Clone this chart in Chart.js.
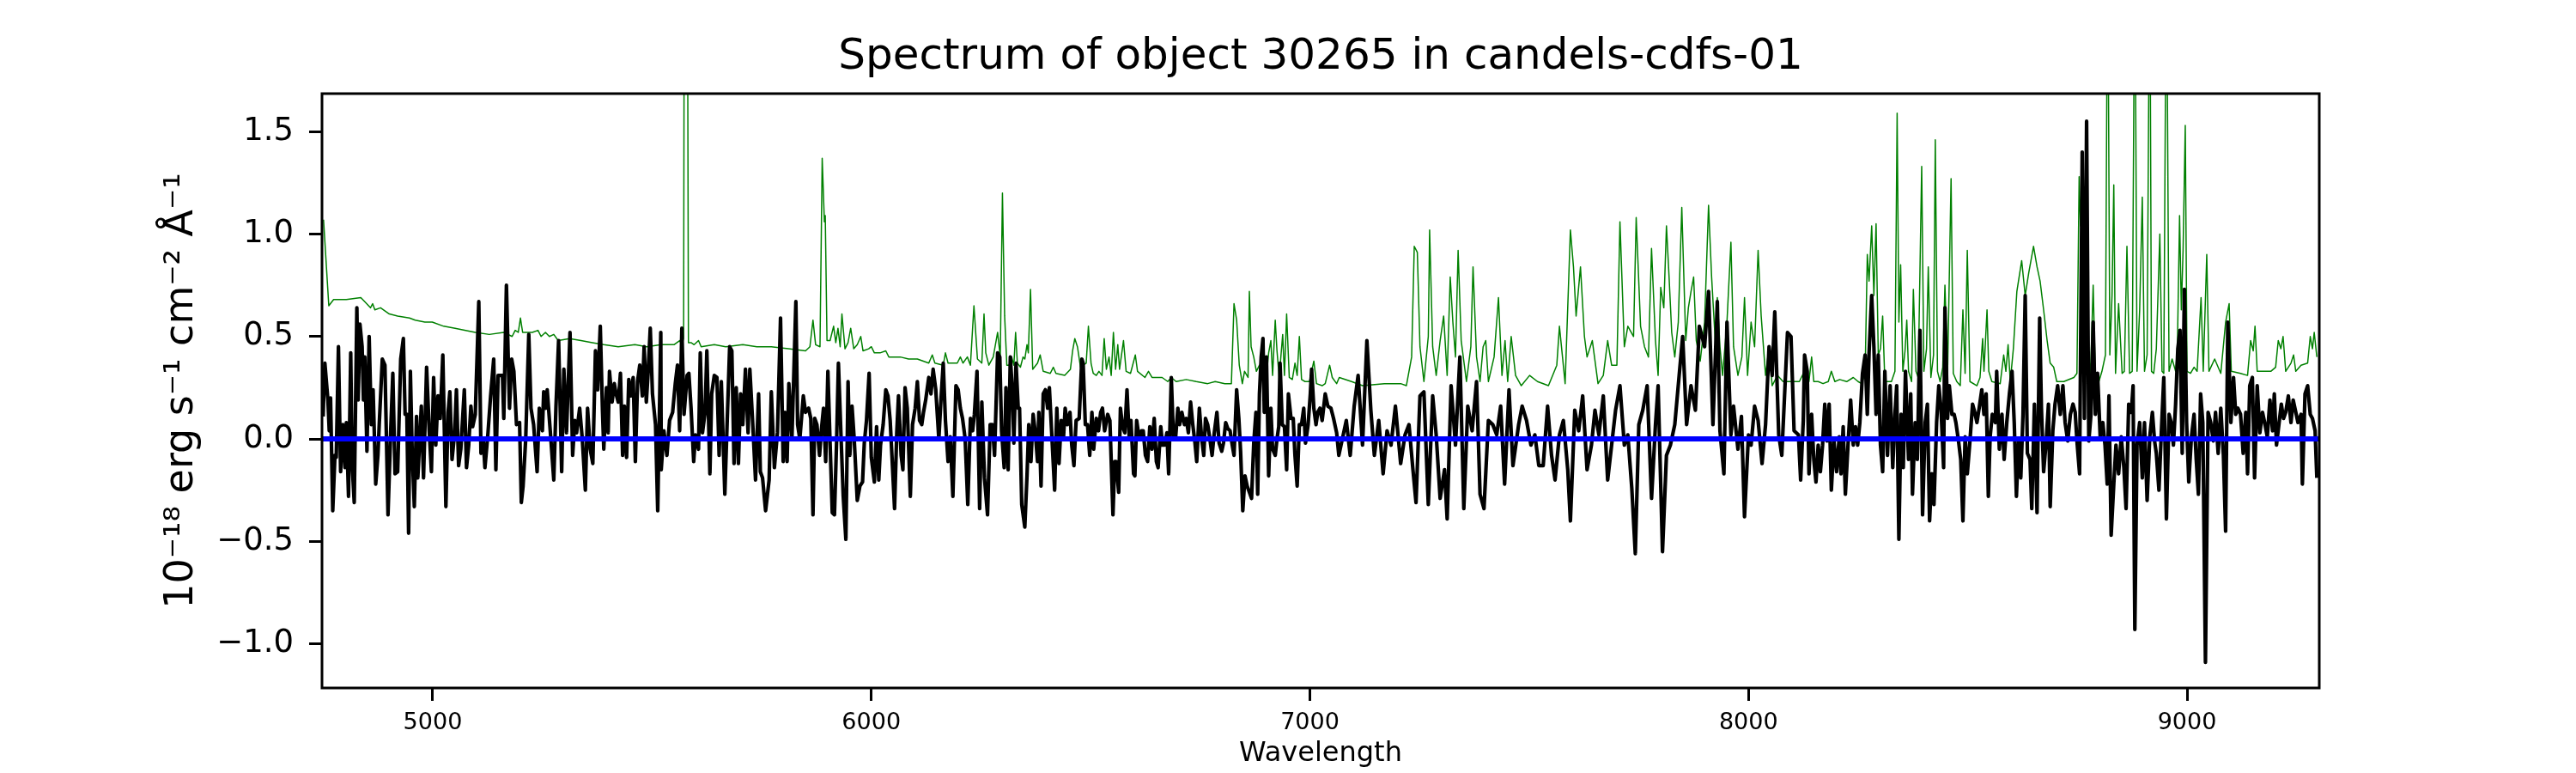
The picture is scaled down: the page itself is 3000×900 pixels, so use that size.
<!DOCTYPE html>
<html>
<head>
<meta charset="utf-8">
<script src="https://cdn.jsdelivr.net/npm/chart.js@4.4.1/dist/chart.umd.min.js"></script>
<style>
  html, body { margin: 0; padding: 0; background: #fff; }
</style>
</head>
<body>
<canvas id="spectrum" width="3000" height="900"></canvas>
<script>
'use strict';

// axis ticks
const xTicks = [5000, 6000, 7000, 8000, 9000];
const yTicks = [-1.0, -0.5, 0.0, 0.5, 1.0, 1.5];
const yTickLabels = ['\u22121.0', '\u22120.5', '0.0', '0.5', '1.0', '1.5'];

// object flux (black)
const fluxWave = [
  4750,4754,4761,4764,4767,4772,4777,4780,4785,4790,
  4795,4800,4803,4808,4813,4816,4821,4827,4830,4834,
  4839,4842,4845,4850,4855,4860,4864,4870,4875,4878,
  4885,4891,4898,4904,4909,4914,4920,4927,4933,4937,
  4941,4945,4949,4953,4958,4963,4966,4974,4979,4986,
  4992,4997,5002,5007,5012,5017,5023,5030,5035,5039,
  5044,5050,5054,5059,5064,5072,5077,5082,5087,5091,
  5097,5105,5110,5115,5119,5126,5132,5139,5144,5149,
  5159,5162,5168,5175,5180,5185,5191,5198,5202,5206,
  5212,5219,5224,5230,5238,5243,5250,5253,5258,5261,
  5270,5276,5281,5287,5294,5299,5305,5313,5319,5324,
  5328,5335,5341,5348,5353,5359,5365,5371,5376,5382,
  5387,5390,5396,5400,5403,5409,5414,5418,5423,5428,
  5433,5437,5442,5447,5452,5457,5462,5467,5472,5478,
  5482,5487,5491,5496,5501,5508,5513,5520,
  5521,5527,5534,5540,5547,5553,5558,5563,5568,5573,
  5580,5584,5589,5595,5599,5606,5610,5615,5621,5625,
  5632,5636,5642,5648,5653,5658,5666,5671,5677,5682,
  5687,5692,5697,5702,5707,5713,5719,5723,5730,5736,
  5743,5747,5752,5759,5767,5772,5779,5786,5793,5799,
  5803,5808,5812,5819,5828,5832,5837,5845,5850,5857,
  5862,5867,5871,5876,5882,5886,5891,5896,5901,5906,
  5911,5916,5921,5925,5932,5936,5942,5947,5951,5956,
  5961,5968,5974,5980,5984,5989,5995,6000,6007,6012,
  6017,6021,6027,6033,6038,6043,6047,6053,6058,6062,
  6068,6072,6077,6082,6089,6094,6100,6105,6110,6115,
  6119,6124,6131,6136,6141,6147,6154,6158,6164,6169,
  6175,6180,6186,6193,6198,6203,6208,6214,6220,6226,
  6231,6235,6241,6247,6252,6258,6265,6271,6276,6281,
  6288,6293,
  6297,6303,6307,6312,6317,6322,6325,6330,6335,6338,
  6343,6350,6355,6359,6364,6369,6374,6379,6382,6387,
  6392,6397,6402,6406,6412,6418,6423,6428,6433,6438,
  6442,6447,6453,6457,6462,6467,6474,6480,6483,6488,
  6493,6498,6503,6507,6513,6518,6523,6527,6532,6539,
  6544,6551,6555,6558,6564,6568,6573,6578,6583,6588,
  6592,6598,6601,6605,6611,6616,6620,6625,6630,6635,
  6640,6645,6650,6654,6660,6664,6669,6674,6678,6684,
  6689,6694,6699,6703,6708,6714,6718,6723,6728,6733,
  6738,6742,6748,6753,6758,6762,6767,6772,6777,6782,
  6788,6793,6799,6803,6808,6813,6818,6823,6827,6833,
  6838,6842,6847,6852,6857,6862,6867,6872,6877,6881,
  6885,6889,6893,6896,6901,6906,6911,6915,6921,6925,
  6929,6932,6937,6942,6947,6951,6957,6962,6966,6971,
  6976,6981,6986,6990,6996,7001,7004,7009,7014,7018,
  7023,7028,7035,7041,7048,7054,7061,7066,
  7070,7083,7092,7101,7110,7120,7130,7139,7147,7157,
  7167,7176,7185,7195,7207,7217,7226,7235,7242,7251,
  7260,7270,7280,7288,7297,7307,7313,7322,7332,7342,
  7351,7360,7370,7380,7388,7397,7407,7417,7426,7435,
  7444,7454,7463,7476,7484,7494,7504,7513,7522,7532,
  7542,7551,7559,7569,7578,7588,7594,7604,7613,7622,
  7632,7642,7650,7659,7669,7679,7688,7697,7707,7717,
  7725,7734,7742,7750,7759,7769,7779,7788,7794,7804,
  7813,7822,7832,7842,7850,7859,7869,7879,7888,7900,
  7909,7919,7929,
  7935,7944,7951,7960,7966,7976,7984,7991,8000,8006,
  8014,8022,8031,8039,8047,8054,8060,8069,8076,8089,
  8097,8104,8114,8119,8125,
  8128,8134,8138,8144,8149,8154,8159,8164,8169,8174,
  8179,8184,8189,8195,8201,8207,8211,8216,8221,8227,
  8233,8239,8244,8249,8254,8260,8266,8271,8275,8281,
  8286,8291,8296,8301,8306,8311,8317,8323,8329,8334,
  8338,8343,8348,8353,8358,8365,8370,8374,8380,8385,
  8391,8397,8403,8408,8413,8418,8423,8429,8434,8439,
  8445,8448,8454,8458,8464,8469,8473,8479,8484,8489,
  8494,8499,8505,8511,8516,8521,8526,8532,8537,8542,
  8547,8551,8556,8563,8566,8572,8578,8583,8589,8595,
  8601,8606,8611,8616,8621,8626,8631,8636,8642,8646,
  8652,8658,8664,8668,8673,8679,8684,8688,8694,8699,
  8705,8711,8717,8722,8728,8734,8740,8745,8749,8755,
  8761,8766,8771,8776,8781,8786,8791,8796,8802,8808,
  8813,8818,8822,8827,8833,8838,8844,8850,8856,8861,
  8867,8873,8877,8881,8886,8892,8898,8903,8909,8915,
  8921,8926,8930,8936,8941,8947,8953,8959,8964,8969,
  8974,8979,8984,8989,8994,8999,9004,9010,9016,9021,
  9026,9031,9036,9042,9048,9054,9060,9065,9071,9077,
  9083,9088,9093,9100,9106,9111,9116,9122,9128,9134,
  9138,9143,9149,9154,9160,9166,9172,9177,9183,9189,
  9195,9199,9204,9210,9215,9220,9225,9231,9237,9242,
  9248,9253,9260,9263,9269,9275,9281,9286,9292,9296
];
const fluxValue = [
  0.11,0.37,0.19,0.04,0.20,-0.35,-0.08,-0.09,0.45,-0.16,
  0.07,-0.14,0.08,-0.28,0.42,-0.11,-0.31,0.64,0.19,0.56,
  0.45,0.19,0.40,-0.06,0.50,0.07,0.24,-0.22,-0.08,0.07,
  0.39,0.36,-0.37,0.03,0.32,-0.17,-0.16,0.39,0.49,0.12,
  0.12,-0.46,0.33,-0.05,-0.33,0.11,-0.19,0.16,-0.19,0.35,
  0.04,-0.16,0.30,-0.03,0.21,0.10,0.41,-0.33,0.13,0.23,
  -0.10,0.03,0.24,-0.13,-0.05,0.24,-0.14,-0.03,0.16,0.06,
  0.12,0.67,-0.07,0.00,-0.14,0.03,0.21,0.39,-0.15,0.31,
  0.31,0.10,0.75,0.15,0.39,0.33,0.07,0.08,-0.31,-0.23,
  0.00,0.51,0.15,0.07,-0.16,0.15,0.04,0.23,0.15,0.24,
  -0.02,-0.20,0.16,0.48,-0.16,0.34,0.03,0.52,-0.08,0.09,
  0.03,0.15,0.00,-0.25,0.15,-0.05,-0.12,0.43,0.24,0.55,
  0.14,-0.05,0.25,0.03,0.33,0.18,0.27,0.22,0.18,0.32,
  -0.08,0.16,-0.09,0.29,0.21,0.30,-0.11,0.28,0.36,0.21,
  0.45,0.18,0.32,0.54,0.22,0.07,-0.35,0.52,
  -0.15,0.04,-0.08,0.09,0.13,0.27,0.36,0.04,0.54,0.12,
  0.31,0.32,0.15,-0.11,0.02,-0.05,0.42,0.03,0.13,0.43,
  -0.17,0.22,0.31,0.30,-0.08,0.28,-0.27,0.06,0.45,0.43,
  -0.12,0.25,-0.12,0.22,0.07,0.34,0.03,0.34,0.06,-0.20,
  0.22,-0.16,-0.19,-0.35,-0.20,0.23,-0.14,0.03,0.59,-0.11,
  0.13,-0.11,0.27,0.00,0.67,0.07,0.00,0.21,0.13,0.15,
  0.10,-0.37,0.10,0.07,-0.08,0.04,0.15,-0.11,0.33,-0.02,
  -0.36,-0.37,0.00,0.37,-0.05,-0.28,-0.49,0.28,-0.08,0.16,
  0.00,-0.30,-0.23,-0.21,-0.02,0.09,0.32,-0.09,-0.21,0.06,
  -0.20,-0.03,0.07,0.24,0.21,0.09,-0.08,-0.34,0.03,0.21,
  -0.08,-0.15,0.25,0.15,-0.28,0.07,0.15,0.28,0.09,0.07,
  0.13,0.19,0.30,0.22,0.34,0.24,0.00,0.16,0.37,0.09,
  -0.11,0.01,-0.28,0.26,0.24,0.15,0.10,0.00,-0.32,0.10,
  0.04,0.12,0.33,-0.34,0.18,-0.19,-0.37,0.07,0.07,-0.08,
  0.42,0.40,
  0.04,-0.14,0.25,-0.15,0.40,0.22,-0.02,0.37,0.15,0.15,
  -0.32,-0.43,-0.18,0.07,-0.11,0.12,0.03,-0.11,0.13,-0.23,
  0.22,0.24,0.15,0.25,0.00,-0.25,0.15,-0.12,0.09,0.00,
  0.15,0.07,0.13,-0.03,-0.13,0.09,0.10,0.39,0.37,0.07,
  0.07,-0.08,0.13,-0.05,0.10,0.04,0.13,0.15,0.04,0.12,
  0.09,-0.37,-0.11,-0.11,-0.26,0.15,0.06,0.03,0.24,0.01,
  0.09,-0.17,-0.18,0.09,0.00,0.04,0.04,-0.08,-0.11,0.06,
  -0.05,0.10,-0.11,-0.14,0.06,-0.03,-0.03,0.03,-0.17,0.30,
  0.00,0.01,0.15,0.07,0.13,0.07,0.10,0.03,0.18,0.07,
  -0.02,-0.11,0.15,0.01,-0.08,0.10,0.07,0.00,-0.08,0.03,
  0.13,-0.02,-0.06,-0.02,0.08,0.05,0.04,-0.03,-0.08,0.24,
  0.10,-0.06,-0.35,-0.18,-0.23,-0.26,-0.29,-0.02,0.13,-0.27,
  0.22,0.40,0.49,0.13,0.40,-0.18,0.15,-0.05,-0.08,0.00,
  0.06,0.37,0.07,0.06,-0.15,0.22,0.10,0.10,-0.08,-0.23,
  0.07,0.07,0.15,-0.02,0.07,0.22,0.34,0.15,0.07,0.13,
  0.15,0.09,0.22,0.16,0.15,0.10,0.03,-0.08,
  -0.04,0.09,-0.08,0.16,0.31,-0.03,0.48,0.14,-0.08,0.09,
  -0.17,0.04,-0.03,0.16,-0.12,0.02,0.07,-0.15,-0.31,0.21,
  0.23,-0.32,0.21,0.02,-0.29,-0.15,-0.39,0.26,-0.03,0.40,
  -0.34,0.16,0.04,0.28,-0.27,-0.34,0.09,0.07,0.02,0.16,
  -0.22,0.24,-0.13,0.07,0.16,0.09,-0.03,0.02,-0.13,-0.13,
  0.16,-0.08,-0.20,0.02,0.09,-0.15,-0.40,0.14,0.04,0.21,
  -0.15,-0.03,0.14,0.02,0.21,-0.20,-0.03,0.14,0.26,-0.03,
  0.02,-0.24,-0.56,0.07,0.14,0.26,-0.29,0.07,0.26,-0.55,
  -0.08,-0.03,0.07,0.31,0.50,0.07,0.26,0.14,0.55,0.45,
  0.72,0.07,0.67,
  0.04,-0.17,0.57,0.02,0.16,-0.05,0.11,-0.38,0.02,-0.03,
  0.16,0.09,-0.12,0.07,0.45,0.31,0.62,0.02,-0.08,0.52,
  0.50,0.04,0.02,-0.20,0.09,
  0.41,0.33,-0.17,0.12,-0.10,-0.21,-0.03,-0.16,-0.03,0.17,
  -0.01,0.17,-0.25,-0.01,-0.16,0.01,-0.17,0.06,-0.27,-0.03,
  0.19,-0.03,0.06,-0.03,0.08,0.32,0.41,0.12,0.42,0.70,
  0.45,0.12,0.41,-0.03,-0.16,0.33,-0.08,0.26,-0.14,0.12,
  0.26,-0.49,0.12,-0.14,0.33,-0.10,0.22,-0.27,0.08,-0.10,
  0.53,-0.37,0.08,0.17,-0.40,-0.17,-0.32,0.08,0.26,0.15,
  -0.14,0.64,0.10,0.26,0.12,0.12,0.08,-0.01,-0.10,-0.40,
  0.01,-0.17,-0.01,0.17,0.13,0.08,0.15,0.24,0.12,0.22,
  -0.28,0.01,0.12,0.08,0.33,-0.05,0.12,-0.10,0.08,0.22,
  0.33,0.08,-0.28,-0.01,-0.19,0.12,0.70,-0.07,-0.10,-0.34,
  0.17,-0.36,0.59,0.15,-0.16,-0.01,0.17,-0.33,0.04,0.17,
  0.26,0.12,0.26,0.08,-0.01,0.12,0.17,0.13,-0.01,-0.17,
  1.40,0.10,1.55,-0.01,0.12,0.57,0.12,0.32,0.01,0.08,
  -0.03,-0.22,0.21,-0.47,-0.22,-0.03,-0.17,0.01,-0.14,-0.34,
  0.17,0.13,0.26,-0.93,-0.03,0.08,-0.19,0.08,-0.30,0.01,
  0.13,-0.01,-0.07,-0.25,0.01,0.30,-0.39,0.12,0.08,-0.03,
  0.17,0.44,0.53,-0.07,0.73,0.08,-0.21,0.01,0.12,-0.10,
  -0.27,0.22,0.08,-1.09,0.13,0.08,-0.01,0.13,-0.07,0.15,
  -0.08,-0.45,0.57,0.08,0.30,0.12,0.15,0.12,-0.07,0.13,
  -0.17,0.26,0.30,-0.19,0.26,0.03,0.13,0.08,0.01,0.19,
  0.04,0.22,-0.03,0.08,0.17,0.10,0.13,0.21,0.08,0.19,
  0.13,0.08,0.12,-0.22,0.22,0.26,0.12,0.10,0.04,-0.19
];

// noise / sky spectrum (green)
const skyWave = [
  4751,4763,4774,4803,4836,4845,4858,4863,4868,4881,
  4901,4920,4947,4960,4982,4999,5025,5051,5097,5129,
  5162,5181,5188,5195,5200,5205,5221,5227,5240,5247,
  5257,5266,5276,5286,5312,5338,5364,5390,5423,5461,
  5488,5521,
  5550,5563,5568,5572,5574,5580,5583,5589,5596,5606,
  5612,5642,5668,5707,5739,5772,5811,5850,5860,5867,
  5873,5883,5888,5893,5895,5899,5906,5914,5919,5924,
  5929,5933,5940,5947,5953,5960,5968,5976,5981,5994,
  6000,6007,6020,6033,6040,6066,6085,6105,6131,6139,
  6145,6164,6169,6175,6196,6203,6209,6219,6226,6234,
  6242,6252,6257,6261,6268,6278,6288,
  6290,6294,6299,6304,6309,6314,6320,6325,6329,6333,
  6340,6346,6350,6355,6358,6363,6368,6379,6385,6392,
  6408,6415,6421,6441,6454,6459,6464,6470,6477,6483,
  6490,6495,6501,6506,6513,6519,6526,6531,6536,6542,
  6547,6552,6557,6562,6566,6575,6581,6591,6602,6607,
  6624,6632,6640,6663,6676,6684,6695,6718,6741,6767,
  6784,6806,6821,6827,6833,6839,6846,6851,6859,6862,
  6866,6872,6878,6885,6891,6896,6901,6906,6911,6915,
  6921,6925,6930,6938,6942,6947,6953,6960,6966,6971,
  6976,6981,6989,6999,7009,7015,7028,7035,7045,7051,
  7061,7067,
  7095,7120,7170,7207,7220,7232,7238,7245,7251,7260,
  7270,7273,7280,7288,7297,7305,7313,7320,7326,7332,
  7338,7345,7357,7367,7372,7380,7388,7395,7401,7407,
  7420,7430,7438,7445,7451,7459,7469,7482,7501,7519,
  7544,7563,7569,7576,7582,7594,7601,7607,7617,7626,
  7632,7644,7657,7669,7679,7688,7700,7707,7717,7725,
  7738,7744,7754,7763,7772,7779,7788,7794,7800,7807,
  7813,7819,7825,7832,7840,7848,7857,7863,7869,7875,
  7881,7890,7900,7909,7916,7925,
  7929,7935,7941,7951,7960,7966,7976,7985,7991,7998,
  8006,8014,8022,8029,8039,8047,8054,8066,8079,8091,
  8116,
  8132,8138,8144,8149,8159,8170,8182,8189,8197,8208,
  8224,8239,8250,8258,8266,8271,8275,8281,8286,8291,
  8296,8301,8306,8311,8326,8334,8339,8343,8347,8352,
  8357,8361,8365,8372,8376,8382,8387,8395,8400,8406,
  8410,8416,8422,8426,8431,8437,8443,8448,8454,8462,
  8467,8475,8483,8489,8494,8499,8505,8521,8528,8534,
  8537,8544,8548,8555,8574,8582,8587,8592,8597,8604,
  8612,8623,8631,8639,8650,8658,8665,8673,8681,8688,
  8696,8703,8719,8742,8749,8754,8757,8761,8764,8774,
  8780,8786,8791,8799,8806,8814,8819,8824,8829,8833,
  8837,8844,8852,8857,8863,8869,8875,8881,8886,8892,
  8898,8903,8909,8915,8919,8924,8930,8938,8943,8947,
  8953,8959,8966,8974,8978,8983,8987,8991,8996,9000,
  9008,9016,9023,9032,9037,9045,9050,9063,9077,9088,
  9096,9101,9122,9138,9145,9151,9155,9160,9176,9191,
  9202,9208,9214,9219,9225,9237,9243,9248,9260,9275,
  9281,9286,9290,9296
];
const skyValue = [
  1.07,0.65,0.68,0.68,0.69,0.67,0.64,0.66,0.63,0.64,
  0.61,0.60,0.59,0.58,0.57,0.57,0.55,0.54,0.52,0.51,
  0.52,0.50,0.53,0.52,0.59,0.52,0.52,0.52,0.53,0.50,
  0.52,0.50,0.51,0.48,0.49,0.48,0.47,0.46,0.45,0.46,
  0.45,0.46,
  0.46,0.48,0.46,0.49,3.0,3.0,0.47,0.47,0.46,0.48,
  0.45,0.46,0.45,0.46,0.45,0.45,0.44,0.43,0.45,0.58,
  0.46,0.45,1.37,1.06,1.09,0.48,0.48,0.55,0.47,0.54,
  0.45,0.61,0.44,0.47,0.54,0.44,0.46,0.50,0.43,0.44,
  0.45,0.42,0.42,0.43,0.40,0.40,0.39,0.39,0.37,0.41,
  0.37,0.36,0.42,0.37,0.37,0.40,0.37,0.40,0.36,0.65,
  0.39,0.37,0.61,0.42,0.36,0.40,0.52,
  0.48,0.40,1.20,0.60,0.36,0.36,0.40,0.36,0.52,0.37,
  0.35,0.40,0.39,0.46,0.42,0.73,0.34,0.37,0.41,0.33,
  0.32,0.35,0.32,0.31,0.34,0.43,0.49,0.45,0.35,0.36,
  0.37,0.55,0.37,0.32,0.31,0.33,0.31,0.49,0.34,0.40,
  0.31,0.52,0.34,0.46,0.34,0.48,0.33,0.32,0.41,0.33,
  0.30,0.33,0.30,0.30,0.28,0.30,0.28,0.29,0.28,0.27,
  0.28,0.27,0.27,0.66,0.58,0.36,0.27,0.33,0.30,0.72,
  0.45,0.40,0.33,0.36,0.34,0.40,0.31,0.42,0.48,0.31,
  0.58,0.43,0.30,0.51,0.31,0.61,0.30,0.29,0.37,0.31,
  0.50,0.29,0.28,0.28,0.38,0.27,0.26,0.27,0.36,0.30,
  0.27,0.30,
  0.28,0.26,0.27,0.27,0.26,0.40,0.94,0.91,0.45,0.28,
  0.50,1.02,0.45,0.31,0.48,0.60,0.31,0.79,0.57,0.40,
  0.92,0.48,0.28,0.45,0.84,0.40,0.28,0.45,0.48,0.28,
  0.40,0.69,0.31,0.48,0.28,0.50,0.31,0.26,0.31,0.28,
  0.26,0.36,0.55,0.40,0.27,1.02,0.84,0.60,0.84,0.50,
  0.40,0.48,0.27,0.31,0.48,0.36,0.36,1.06,0.45,0.55,
  0.50,1.08,0.55,0.45,0.40,0.93,0.48,0.31,0.74,0.64,
  1.04,0.79,0.52,0.40,0.57,1.13,0.48,0.64,0.72,0.79,
  0.48,0.38,0.57,1.14,0.79,0.45,
  0.69,0.45,0.31,0.57,0.96,0.45,0.31,0.40,0.69,0.31,
  0.57,0.45,0.92,0.60,0.31,0.45,0.26,0.31,0.28,0.28,
  0.28,
  0.35,0.28,0.40,0.28,0.28,0.27,0.28,0.33,0.28,0.29,
  0.28,0.30,0.28,0.27,0.32,0.90,0.77,1.04,0.70,1.05,
  0.41,0.44,0.60,0.28,0.28,0.33,1.59,0.57,0.85,0.33,
  0.43,0.58,0.33,0.28,0.73,0.33,0.30,1.33,0.33,0.44,
  0.84,0.30,0.41,1.46,0.33,0.28,0.35,0.75,0.32,1.27,
  0.32,0.28,0.26,0.63,0.32,0.92,0.28,0.26,0.30,0.49,
  0.33,0.63,0.33,0.28,0.27,0.41,0.33,0.46,0.28,0.44,
  0.72,0.87,0.70,0.81,0.94,0.84,0.77,0.63,0.48,0.37,
  0.35,0.28,0.28,0.30,0.32,1.28,1.04,1.39,0.70,0.44,
  0.32,0.75,0.30,0.28,0.33,0.41,2.5,0.41,0.70,1.24,
  0.32,0.66,0.32,0.33,0.94,0.32,0.33,2.5,0.33,0.63,
  1.18,0.33,0.41,2.5,0.33,0.32,0.44,1.00,0.33,0.32,
  2.5,0.33,0.39,0.33,0.44,1.09,0.63,0.92,1.53,0.33,
  0.32,0.35,0.33,0.69,0.33,0.90,0.33,0.39,0.32,0.57,
  0.66,0.33,0.32,0.31,0.48,0.43,0.55,0.33,0.33,0.33,
  0.35,0.48,0.44,0.50,0.33,0.37,0.41,0.33,0.36,0.37,
  0.50,0.44,0.52,0.40
];

// zero level (blue)
const zeroWave = [4747.5, 9301.5];
const zeroValue = [0, 0];

function toPoints(xs, ys) {
    return xs.map((x, i) => ({ x: x, y: ys[i] }));
}

Chart.defaults.font.family = '"DejaVu Sans", sans-serif';
Chart.defaults.color = '#000';

// matplotlib-style box around the plot area
const frame = {
    id: 'frame',
    afterDatasetsDraw(chart) {
        const { ctx, chartArea } = chart;
        ctx.save();
        ctx.strokeStyle = '#000';
        ctx.lineWidth = 3;
        ctx.strokeRect(chartArea.left, chartArea.top, chartArea.right - chartArea.left, chartArea.bottom - chartArea.top);
        ctx.restore();
    }
};

const canvas = document.getElementById('spectrum');
new Chart(canvas, {
    type: 'line',
    data: {
        datasets: [
            { label: 'zero', data: toPoints(zeroWave, zeroValue), borderColor: '#0000ff', borderWidth: 6, order: 0 },
            { label: 'flux', data: toPoints(fluxWave, fluxValue), borderColor: '#000000', borderWidth: 4.2, order: 1 },
            { label: 'sky', data: toPoints(skyWave, skyValue), borderColor: '#008000', borderWidth: 1.5, order: 2 }
        ]
    },
    options: {
        responsive: false,
        animation: false,
        devicePixelRatio: 1,
        events: [],
        layout: { padding: { left: 0, right: 299, top: 0, bottom: 0 } },
        elements: {
            point: { radius: 0 },
            line: { tension: 0, fill: false, borderJoinStyle: 'round' }
        },
        plugins: {
            legend: { display: false },
            tooltip: { enabled: false },
            title: {
                display: true,
                fullSize: false,
                text: 'Spectrum of object 30265 in candels-cdfs-01',
                color: '#000',
                font: { size: 50, weight: 'normal' },
                padding: { top: 37, bottom: 12 }
            }
        },
        scales: {
            x: {
                type: 'linear',
                min: 4747.5,
                max: 9301.5,
                afterBuildTicks: axis => { axis.ticks = xTicks.map(v => ({ value: v })); },
                afterFit: axis => { axis.height = 99; },
                grid: { drawOnChartArea: false, tickLength: 15, tickWidth: 3, tickColor: '#000' },
                border: { display: false },
                ticks: { font: { size: 27 }, padding: 10, maxRotation: 0, callback: v => String(v) },
                title: { display: true, text: 'Wavelength', font: { size: 32 }, padding: { top: 0, bottom: 3 } }
            },
            y: {
                type: 'linear',
                min: -1.215,
                max: 1.685,
                afterBuildTicks: axis => { axis.ticks = yTicks.map(v => ({ value: v })); },
                afterFit: axis => { axis.width = 375; },
                grid: { drawOnChartArea: false, tickLength: 15, tickWidth: 3, tickColor: '#000' },
                border: { display: false },
                ticks: { font: { size: 37 }, padding: 18, callback: (v, i) => yTickLabels[i] },
                title: {
                    display: true,
                    text: '10\u207B\u00B9\u2078 erg s\u207B\u00B9 cm\u207B\u00B2 \u00C5\u207B\u00B9',
                    font: { size: 46 },
                    padding: { top: 184, bottom: 0 }
                }
            }
        }
    },
    plugins: [frame]
});
</script>
</body>
</html>
